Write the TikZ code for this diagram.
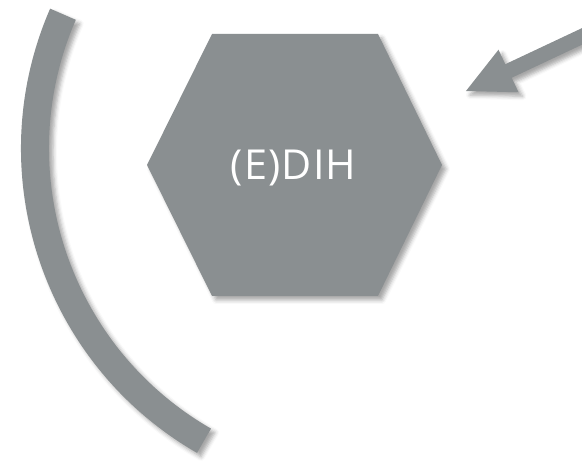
\documentclass[tikz,border=0pt]{standalone}
\usepackage{fontspec}
\setmainfont{Open Sans}[LetterSpace=3]
\usetikzlibrary{shadows.blur}
\definecolor{slate}{HTML}{8A8F91}

\begin{document}
\begin{tikzpicture}[x=0.75pt, y=0.75pt,
  shape fill/.style={fill=slate, blur shadow={shadow xshift=3pt, shadow yshift=-3pt, shadow blur radius=3pt, shadow opacity=35}},
  every node/.style={font=\fontsize{31}{36}\selectfont, text=white}]
\useasboundingbox (0,0) rectangle (582,461);
\coordinate (arcc) at (372,312.4);
% curved band on the left
\path[shape fill] ([shift={(arcc)}]156.5:351) arc[start angle=156.5, end angle=240.1, radius=351]
  -- ([shift={(arcc)}]240.1:323) arc[start angle=240.1, end angle=156.5, radius=323] -- cycle;
% hexagon
\path[shape fill] (212,427) -- (378,427) -- (442,296) -- (378,165) -- (212,165) -- (147,296) -- cycle;
\node (edih) at (293.5,292.5) {(E)DIH};
% arrow
\begin{scope}[shift={(508.5,390)}, rotate=25.2]
\path[shape fill] (-47,0) -- (0,23.5) -- (0,7.5) -- (110,7.5) -- (110,-7.5) -- (0,-7.5) -- (0,-23.5) -- cycle;
\end{scope}
\end{tikzpicture}
\end{document}
